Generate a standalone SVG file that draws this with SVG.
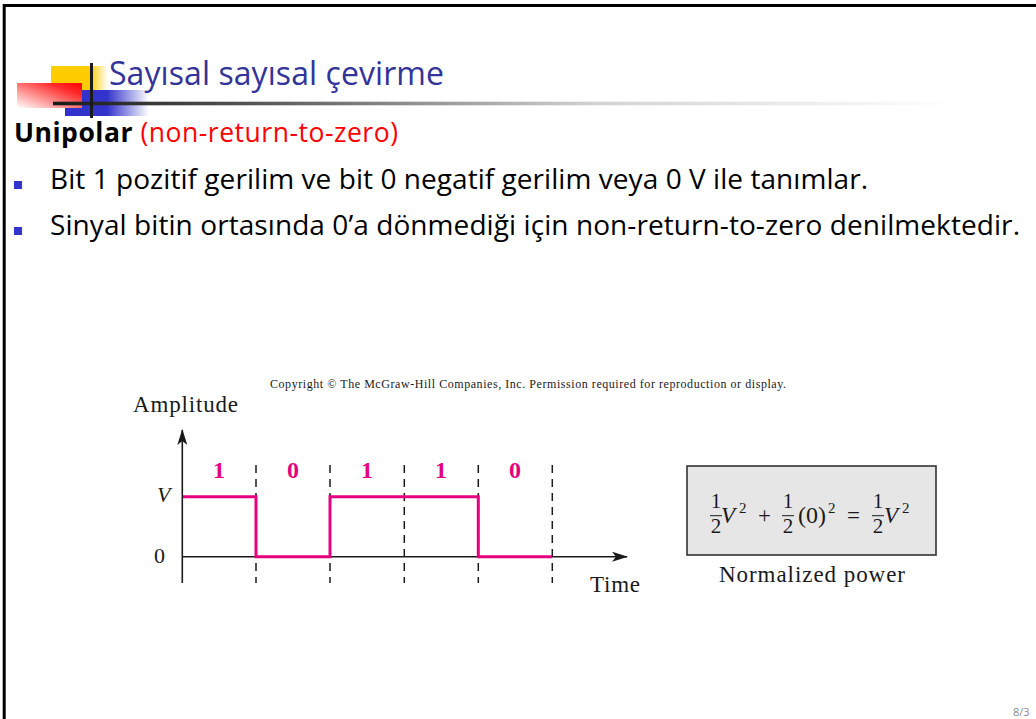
<svg xmlns="http://www.w3.org/2000/svg" width="1036" height="719" viewBox="0 0 1036 719">
<defs>
<linearGradient id="gYellow" x1="0" y1="0" x2="1" y2="0">
<stop offset="0" stop-color="#ffcc00"/><stop offset="0.68" stop-color="#ffcc00"/><stop offset="1" stop-color="#ffffff"/>
</linearGradient>
<linearGradient id="gBlue" x1="0" y1="0" x2="1" y2="0">
<stop offset="0" stop-color="#3333cc"/><stop offset="0.5" stop-color="#3333cc"/><stop offset="1" stop-color="#ffffff"/>
</linearGradient>
<linearGradient id="gRed" x1="0" y1="1" x2="1" y2="0">
<stop offset="0" stop-color="#ffffff"/><stop offset="0.75" stop-color="#ff2a2a"/><stop offset="1" stop-color="#ff0000"/>
</linearGradient>
<linearGradient id="gLine" gradientUnits="userSpaceOnUse" x1="53" y1="0" x2="955" y2="0">
<stop offset="0" stop-color="#1a1a1a"/><stop offset="0.22" stop-color="#555555"/><stop offset="0.6" stop-color="#d2d2d2"/><stop offset="1" stop-color="#ffffff"/>
</linearGradient>
<marker id="arrow" viewBox="0 0 16 10" refX="15" refY="5" markerWidth="16" markerHeight="10" markerUnits="userSpaceOnUse" orient="auto">
<path d="M0,0 L16,5 L0,10 L4,5 Z" fill="#1a1a1a"/>
</marker>
<style>
.sans{font-family:"Open Sans","Noto Sans","DejaVu Sans",sans-serif}
.serif{font-family:"Liberation Serif","Times New Roman",serif}
.body{font-size:28px;fill:#000}
.axis{stroke:#1a1a1a;stroke-width:1.6;fill:none}
.dash{stroke:#1a1a1a;stroke-width:1.5;stroke-dasharray:8 6;fill:none}
.wave{stroke:#e5007e;stroke-width:3;fill:none;stroke-linejoin:miter}
.bit{font-size:24px;font-weight:bold;fill:#e5007e;text-anchor:middle}
.fm{font-size:23px;fill:#1a1a1a}
.fr{font-size:21px;text-anchor:middle}
.sup{font-size:15px}
</style>
</defs>
<rect width="1036" height="719" fill="#ffffff"/>
<g id="frame">
<line x1="4.2" y1="5.5" x2="1036" y2="5.5" stroke="#000" stroke-width="3"/>
<line x1="4.2" y1="4" x2="4.2" y2="719" stroke="#000" stroke-width="3"/>
</g>
<g id="logo">
<rect x="51" y="66" width="57" height="24" fill="url(#gYellow)"/>
<rect x="65" y="90" width="84" height="26" fill="url(#gBlue)"/>
<rect x="17" y="83" width="65" height="25" fill="url(#gRed)"/>
<rect x="53" y="101.7" width="902" height="3.6" fill="url(#gLine)"/>
<rect x="90" y="63" width="3" height="55" fill="#1a1a1a"/>
</g>
<g id="title">
<text class="sans" x="109" y="85" font-size="32" fill="#333399" textLength="335">Sayısal sayısal çevirme</text>
</g>
<g id="subtitle">
<text class="sans" x="14" y="142" font-size="26.5" textLength="384"><tspan font-weight="bold" fill="#000">Unipolar</tspan><tspan fill="#ff0000"> (non-return-to-zero)</tspan></text>
</g>
<g id="bullets">
<rect x="14" y="181" width="8" height="8" fill="#3333cc"/>
<text class="sans body" x="50" y="189" textLength="818">Bit 1 pozitif gerilim ve bit 0 negatif gerilim veya 0 V ile tanımlar.</text>
<rect x="14" y="227" width="8" height="8" fill="#3333cc"/>
<text class="sans body" x="50" y="235" textLength="970">Sinyal bitin ortasında 0’a dönmediği için non-return-to-zero denilmektedir.</text>
</g>
<g id="copyright">
<text class="serif" x="270" y="388" font-size="12" fill="#1a1a1a" textLength="516">Copyright © The McGraw-Hill Companies, Inc. Permission required for reproduction or display.</text>
</g>
<g id="waveform">
<text class="serif" x="133" y="412" font-size="23" fill="#1a1a1a" textLength="105">Amplitude</text>
<text class="serif" x="590" y="592" font-size="23" fill="#1a1a1a" textLength="50">Time</text>
<text class="serif" x="157" y="502" font-size="22" font-style="italic" fill="#1a1a1a">V</text>
<text class="serif" x="154" y="563" font-size="22" fill="#1a1a1a">0</text>
<g id="connectors">
<line class="axis" x1="182.3" y1="583" x2="182.3" y2="430" marker-end="url(#arrow)"/>
<line class="axis" x1="182.3" y1="556.7" x2="627" y2="556.7" marker-end="url(#arrow)"/>
<line class="dash" x1="256" y1="465" x2="256" y2="583"/>
<line class="dash" x1="330" y1="465" x2="330" y2="583"/>
<line class="dash" x1="404.3" y1="465" x2="404.3" y2="583"/>
<line class="dash" x1="478.3" y1="465" x2="478.3" y2="583"/>
<line class="dash" x1="552.3" y1="465" x2="552.3" y2="583"/>
<polyline class="wave" points="183,496.7 256,496.7 256,556.7 330,556.7 330,496.7 478.3,496.7 478.3,556.7 552.3,556.7"/>
</g>
<text class="serif bit" x="219" y="478">1</text>
<text class="serif bit" x="293" y="478">0</text>
<text class="serif bit" x="367" y="478">1</text>
<text class="serif bit" x="441" y="478">1</text>
<text class="serif bit" x="515" y="478">0</text>
</g>
<g id="power-box">
<rect x="687" y="466" width="249" height="89" fill="#e6e6e6" stroke="#333333" stroke-width="1.6"/>
<g class="serif fm">
<text class="fr" x="716" y="508">1</text>
<line x1="710" y1="515.7" x2="722" y2="515.7" stroke="#1a1a1a" stroke-width="1"/>
<text class="fr" x="716" y="533">2</text>
<text x="721" y="523" font-style="italic">V</text>
<text class="sup" x="739" y="513">2</text>
<text x="758" y="523">+</text>
<text class="fr" x="788" y="508">1</text>
<line x1="782" y1="515.7" x2="794" y2="515.7" stroke="#1a1a1a" stroke-width="1"/>
<text class="fr" x="788" y="533">2</text>
<text x="798" y="523" font-size="24">(0)</text>
<text class="sup" x="828" y="513">2</text>
<text x="847" y="523">=</text>
<text class="fr" x="878" y="508">1</text>
<line x1="872" y1="515.7" x2="884" y2="515.7" stroke="#1a1a1a" stroke-width="1"/>
<text class="fr" x="878" y="533">2</text>
<text x="884" y="523" font-style="italic">V</text>
<text class="sup" x="902" y="513">2</text>
</g>
<text class="serif" x="719" y="582" font-size="23" fill="#1a1a1a" textLength="186">Normalized power</text>
</g>
<g id="page-number">
<text class="sans" x="1013" y="716" font-size="11" fill="#8a8a8a">8/3</text>
</g>
</svg>
